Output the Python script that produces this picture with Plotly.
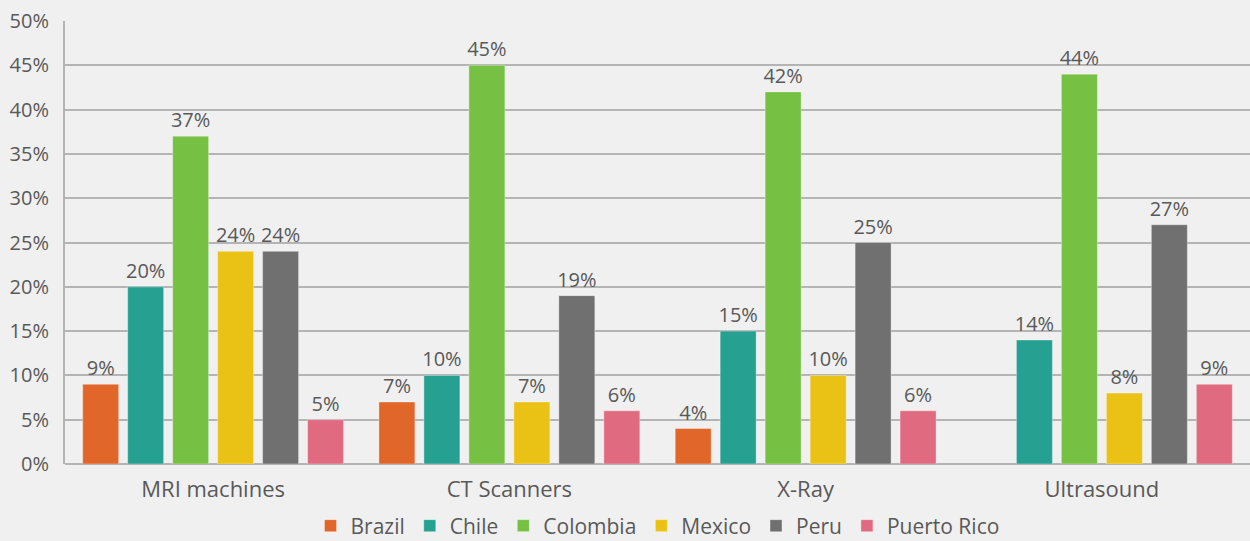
import plotly.graph_objects as go

categories = ["MRI machines", "CT Scanners", "X-Ray", "Ultrasound"]
series_names = ["Brazil", "Chile", "Colombia", "Mexico", "Peru", "Puerto Rico"]
brazil = [9, 7, 4, None]
chile = [20, 10, 15, 14]
colombia = [37, 45, 42, 44]
mexico = [24, 7, 10, 8]
peru = [24, 19, 25, 27]
puerto_rico = [5, 6, 6, 9]
colors = ["#E0662A", "#26A090", "#76C043", "#EAC115", "#707070", "#E06A80"]
tick_vals = [0, 5, 10, 15, 20, 25, 30, 35, 40, 45, 50]
tick_text = [f"{v}%" for v in tick_vals]

values = [brazil, chile, colombia, mexico, peru, puerto_rico]
font_family = "'Open Sans', Lato, sans-serif"
text_color = "#595959"

fig = go.Figure()
for name, vals, col in zip(series_names, values, colors):
    fig.add_trace(go.Bar(
        name=name, x=categories, y=vals,
        marker=dict(color=col, line=dict(color="rgba(255,255,255,0.35)", width=1)),
        text=[f"{v}%" if v is not None else "" for v in vals],
        textposition="outside", cliponaxis=False, constraintext="none",
        textfont=dict(size=20, color=text_color, family=font_family),
    ))

fig.update_layout(
    width=1250, height=541,
    barmode="group", bargap=0.089, bargroupgap=0.2,
    paper_bgcolor="#F0F0F0", plot_bgcolor="#F0F0F0",
    margin=dict(l=65, r=0, t=21, b=77, autoexpand=False),
    font=dict(family=font_family, color=text_color, size=20),
    legend=dict(orientation="h", x=0.5, xanchor="center", y=-0.14, yanchor="middle",
                font=dict(size=21, color=text_color), itemwidth=30,
                traceorder="normal"),
)
fig.update_yaxes(range=[0, 50], tickvals=tick_vals, ticktext=tick_text,
                 showgrid=True, gridcolor="#B4B4B4", gridwidth=1.5,
                 showline=True, linecolor="#B4B4B4", linewidth=2,
                 zeroline=True, zerolinecolor="#B4B4B4", zerolinewidth=2,
                 ticks="", ticklabelstandoff=10,
                 tickfont=dict(size=20, color=text_color))
fig.update_xaxes(showline=False, ticks="", ticklabelstandoff=10,
                 tickfont=dict(size=22, color=text_color))

fig.write_html("out.html", post_script="document.body.style.margin='0';",
               config={"displayModeBar": False})
